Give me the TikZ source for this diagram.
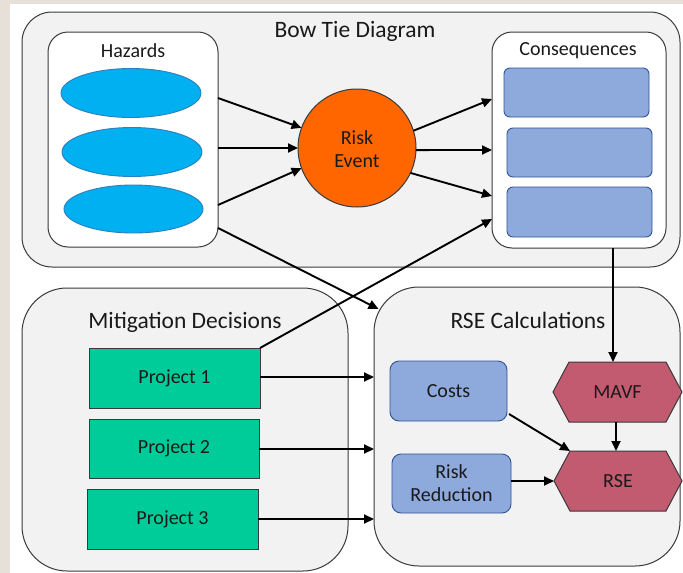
\documentclass[tikz,border=0pt]{standalone}
\usepackage{fontspec}
\setmainfont{Carlito}
\usetikzlibrary{arrows.meta,calc}
\definecolor{beige}{HTML}{E6E0D8}
\definecolor{panel}{HTML}{F2F2F2}
\definecolor{edge}{HTML}{3A3A3A}
\definecolor{hazblue}{HTML}{00B0F0}
\definecolor{hazedge}{HTML}{2E7EBE}
\definecolor{riskorange}{HTML}{FF6600}
\definecolor{consfill}{HTML}{8EA9DB}
\definecolor{consedge}{HTML}{2F5597}
\definecolor{projgreen}{HTML}{00CC99}
\definecolor{hexrose}{HTML}{C25A70}
\definecolor{txt}{HTML}{1A1A1A}
\tikzset{
  panelbox/.style={draw=edge, fill=panel, line width=1pt},
  whitebox/.style={draw=edge, fill=white, line width=1pt, rounded corners=20pt},
  hazell/.style={ellipse, draw=hazedge, fill=hazblue, line width=0.9pt},
  consbox/.style={draw=consedge, fill=consfill, line width=0.9pt, rounded corners=6pt},
  calcbox/.style={draw=consedge, fill=consfill, line width=0.9pt, rounded corners=9pt, text=txt, align=center, font=\fontsize{20}{23}\selectfont},
  projbox/.style={draw=edge, fill=projgreen, line width=1pt, text=txt, font=\fontsize{20}{24}\selectfont},
  hexpath/.style={draw=edge, fill=hexrose, line width=1pt},
  hexlabel/.style={text=txt, font=\fontsize{20}{24}\selectfont},
  headlabel/.style={text=txt, font=\fontsize{23.5}{28}\selectfont},
  sublabel/.style={text=txt, font=\fontsize{20}{24}\selectfont},
  arr/.style={line width=1.9pt, -{Triangle[length=10pt,width=9pt]}},
  sizedbox/.style={inner sep=0pt, outer sep=0pt},
}
\usetikzlibrary{shapes.geometric}
\begin{document}
\begin{tikzpicture}[x=1pt,y=-1pt]
\useasboundingbox (0,0) rectangle (683,573);
\fill[beige] (0,0) rectangle (683,573);
\fill[white] (10,4) rectangle (683,573);

% Bow tie panel
\node[panelbox, sizedbox, rounded corners=30pt, minimum width=658pt, minimum height=255pt] (bowtie) at (351,139.5) {};
\node[headlabel] (bttitle) at (355,31) {Bow Tie Diagram};

% Hazards
\node[whitebox, sizedbox, minimum width=170pt, minimum height=215pt] (hazbox) at (133,139.5) {};
\node[sublabel] (hazlbl) at (133,51) {Hazards};
\node[hazell, sizedbox, minimum width=140pt, minimum height=49pt] (h1) at (131,93) {};
\node[hazell, sizedbox, minimum width=140pt, minimum height=49pt] (h2) at (132,152) {};
\node[hazell, sizedbox, minimum width=139pt, minimum height=48pt] (h3) at (133.5,209) {};

% Risk event
\node[circle, draw=edge, fill=riskorange, line width=1pt, sizedbox, minimum size=118pt] (risk) at (357,148) {};
\node[sublabel, align=center, font=\fontsize{20}{23.5}\selectfont] (risklbl) at (357,149) {Risk\\Event};

% Consequences
\node[whitebox, sizedbox, minimum width=174pt, minimum height=216pt] (consbox) at (579,140) {};
\node[sublabel] (conslbl) at (578,51) {Consequences};
\node[consbox, sizedbox, minimum width=145pt, minimum height=49pt] (c1) at (576.5,92.5) {};
\node[consbox, sizedbox, minimum width=145pt, minimum height=49pt] (c2) at (579.5,152.5) {};
\node[consbox, sizedbox, minimum width=145pt, minimum height=50pt] (c3) at (579.5,212) {};

% Mitigation decisions panel
\node[panelbox, sizedbox, rounded corners=45pt, minimum width=326pt, minimum height=283pt] (mitbox) at (185,429.5) {};
\node[headlabel] (mitlbl) at (185,322) {Mitigation Decisions};
\node[projbox, sizedbox, minimum width=171pt, minimum height=60pt] (p1) at (174.5,378) {Project 1};
\node[projbox, sizedbox, minimum width=170pt, minimum height=59pt] (p2) at (174,448.5) {Project 2};
\node[projbox, sizedbox, minimum width=171pt, minimum height=60pt] (p3) at (172.5,519) {Project 3};

% RSE calculations panel
\node[panelbox, sizedbox, rounded corners=45pt, minimum width=306pt, minimum height=279pt] (rsebox) at (527,426.5) {};
\node[headlabel] (rselbl) at (528,320) {RSE Calculations};
\node[calcbox, sizedbox, minimum width=117pt, minimum height=60pt] (costs) at (448.5,391) {Costs};
\node[calcbox, sizedbox, minimum width=119pt, minimum height=59pt] (rr) at (451.5,483.5) {Risk\\Reduction};

% hexagons
\node[sizedbox, minimum width=129pt, minimum height=60pt] (mavf) at (617.5,392) {};
\draw[hexpath] (mavf.west) -- ([xshift=16pt]mavf.north west) -- ([xshift=-16pt]mavf.north east)
  -- (mavf.east) -- ([xshift=-16pt]mavf.south east) -- ([xshift=16pt]mavf.south west) -- cycle;
\node[hexlabel] (mavflbl) at (mavf) {MAVF};
\node[sizedbox, minimum width=128pt, minimum height=60pt] (rse) at (618,481) {};
\draw[hexpath] (rse.west) -- ([xshift=16pt]rse.north west) -- ([xshift=-16pt]rse.north east)
  -- (rse.east) -- ([xshift=-16pt]rse.south east) -- ([xshift=16pt]rse.south west) -- cycle;
\node[hexlabel] (rselbl2) at (rse) {RSE};

% Arrows: hazards -> risk
\draw[arr] (hazbox.east |- 0,98) -- (risk.160);
\draw[arr] (hazbox.east |- 0,148) -- (risk.180);
\draw[arr] (hazbox.east |- 0,205) -- (risk.200);
% risk -> consequences
\draw[arr] (risk.17) -- (consbox.west |- 0,99);
\draw[arr] (risk.358) -- (consbox.west |- 0,150);
\draw[arr] (risk.335) -- (consbox.west |- 0,196);
% hazards -> RSE panel
\draw[arr] (hazbox.east |- 0,228) -- ([shift={(4.5pt,-22pt)}]rsebox.north west);
% project 1 -> consequences
\draw[arr] (p1.north east) -- (consbox.west |- 0,219);
% projects -> RSE panel
\draw[arr] (p1.east |- 0,377) -- (rsebox.west |- 0,377);
\draw[arr] (p2.east |- 0,449) -- (rsebox.west |- 0,449);
\draw[arr] (p3.east |- 0,519) -- (rsebox.west |- 0,519);
% consequences -> MAVF
\draw[arr] (consbox.south -| 613,0) -- (mavf.north -| 613,0);
% MAVF -> RSE
\draw[arr] (mavf.south -| 616,0) -- (rse.north -| 616,0);
% Costs -> RSE
\draw[arr] ([shift={(2pt,7pt)}]costs.south east) -- ([xshift=16pt]rse.north west);
% Risk reduction -> RSE
\draw[arr] (rr.east |- rse.west) -- (rse.west);
\end{tikzpicture}
\end{document}
